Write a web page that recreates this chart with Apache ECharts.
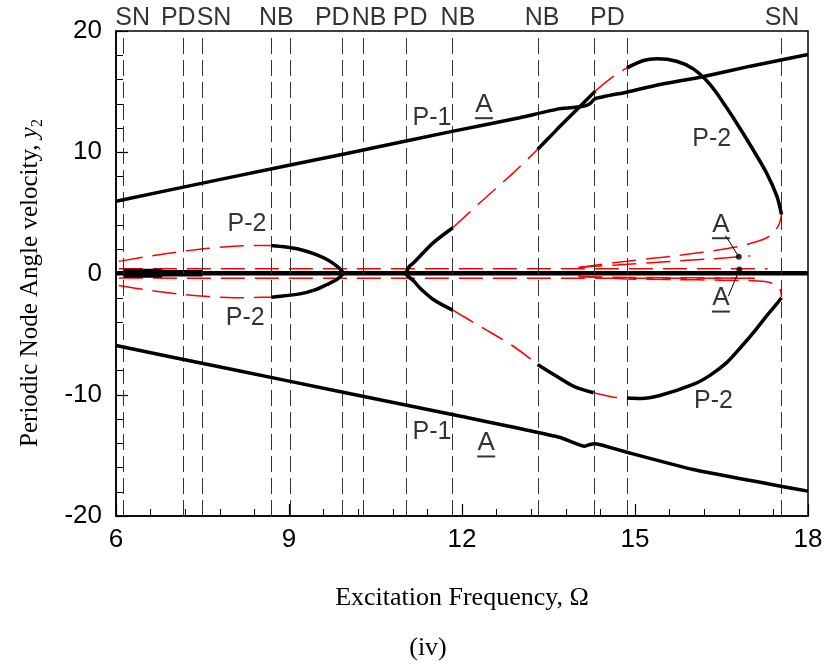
<!DOCTYPE html>
<html><head><meta charset="utf-8">
<script src="https://cdn.jsdelivr.net/npm/echarts@6/dist/echarts.min.js"></script>
<style>html,body{margin:0;padding:0;background:#fff}#c{width:828px;height:671px}</style>
</head><body><div id="c"></div>
<script>
// ---- data ----
const bifurcationX = [6.13, 7.17, 7.50, 8.69, 9.03, 9.93, 10.29, 11.03, 11.83, 13.32, 14.29, 14.86, 17.54];
const bifurcationLabels = ['SN', 'PD', 'SN', 'NB', 'PD', 'NB', 'PD', 'NB', 'NB', 'PD', 'SN'];
const bifurcationLabelX = [6.29, 7.08, 7.70, 8.78, 9.75, 10.39, 11.10, 11.93, 13.39, 14.52, 17.55];
const bifurcationLabelY = 21.06;

const p1Upper = [[6, 5.96], [8, 7.95], [10, 9.9], [11.85, 11.74], [13, 12.85], [13.7, 13.6], [14.05, 13.75], [14.16, 13.86], [14.24, 14.1], [14.31, 14.43], [14.85, 14.95], [15.43, 15.59], [16.13, 16.19], [17, 17.1], [18, 18.06]];
const p1Lower = [[6, -5.94], [8, -7.9], [10, -9.85], [12, -11.8], [13.7, -13.52], [14.13, -14.24], [14.22, -14.1], [14.31, -14.05], [14.45, -14.19], [14.86, -14.74], [16.01, -16.16], [18, -17.95]];
const p1Zero = [[6.0, 0.03], [18, 0.03]];
const p1ZeroThickA = [[6.13, 0.03], [6.8, 0.03]];
const p1ZeroThickB = [[6.13, 0.03], [7.5, 0.03]];
const redZeroUpper = [[6.05, 0.4], [17.3, 0.4]];
const redZeroLower = [[6.05, -0.38], [17.2, -0.4]];

const leftP2UpperUnstable = [[6.05, 1.0], [6.6, 1.45], [7.17, 1.84], [7.6, 2.08], [8.04, 2.25], [8.4, 2.3], [8.69, 2.31]];
const leftP2UpperStable = [[8.69, 2.31], [8.95, 2.18], [9.19, 1.98], [9.45, 1.6], [9.66, 1.15], [9.83, 0.6], [9.93, 0.15]];
const leftP2LowerUnstable = [[6.05, -0.99], [6.6, -1.4], [7.17, -1.73], [7.6, -1.9], [8.04, -2.0], [8.4, -1.98], [8.69, -1.95]];
const leftP2LowerStable = [[8.69, -1.95], [9.19, -1.68], [9.45, -1.35], [9.66, -0.91], [9.83, -0.5], [9.93, -0.08]];

const rightP2UpperStableA = [[11.03, 0.05], [11.08, 0.55], [11.16, 0.88], [11.27, 1.43], [11.5, 2.53], [11.84, 3.77]];
const rightP2UpperUnstableA = [[11.84, 3.77], [12.31, 5.83], [12.89, 8.3], [13.31, 10.23]];
const rightP2UpperStableB = [[13.31, 10.23], [13.59, 11.6], [13.7, 12.15], [14.05, 13.8], [14.31, 15.04]];
const rightP2UpperUnstableB = [[14.31, 15.04], [14.63, 16.27], [14.86, 16.96]];
const rightP2UpperStableC = [[14.86, 16.96], [15.15, 17.57], [15.38, 17.71], [15.72, 17.51], [16.01, 16.88], [16.3, 15.6], [16.59, 13.67], [16.94, 11.05], [17.28, 8.3], [17.46, 6.38], [17.54, 4.87]];

const rightP2LowerStableA = [[11.03, -0.05], [11.08, -0.3], [11.16, -0.6], [11.27, -1.2], [11.5, -2.14], [11.84, -3.02]];
const rightP2LowerUnstableA = [[11.84, -3.02], [12.31, -4.35], [12.89, -6.0], [13.31, -7.5]];
const rightP2LowerStableB = [[13.31, -7.5], [13.59, -8.33], [13.93, -9.29], [14.28, -9.84]];
const rightP2LowerUnstableB = [[14.28, -9.84], [14.63, -10.2], [14.86, -10.26]];
const rightP2LowerStableC = [[14.86, -10.26], [15.1, -10.3], [15.43, -10.06], [16.01, -9.15], [16.3, -8.4], [16.59, -7.35], [16.85, -6.0], [17.1, -4.6], [17.3, -3.4], [17.45, -2.55], [17.54, -2.0]];

const wedgeUpperOuter = [[14.02, 0.5], [14.4, 0.75], [14.86, 1.01], [15.3, 1.25], [15.67, 1.43], [16.0, 1.65], [16.36, 1.88], [16.82, 2.25], [17.05, 2.55], [17.22, 2.8], [17.35, 3.15], [17.45, 3.65], [17.51, 4.2], [17.54, 4.87]];
const wedgeUpperInner = [[14.02, 0.5], [14.4, 0.62], [14.86, 0.76], [15.67, 1.01], [16.3, 1.2], [16.8, 1.38], [17.0, 1.45]];
const wedgeLowerOuter = [[14.02, -0.25], [14.86, -0.45], [15.67, -0.5], [16.5, -0.55], [17.05, -0.6], [17.3, -0.7], [17.45, -0.95], [17.52, -1.35], [17.54, -1.95]];
const wedgeLowerInner = [[14.02, -0.25], [15.0, -0.33], [16.0, -0.36], [17.0, -0.4]];

const pointsA = [[16.8, 1.38], [16.81, 0.33]];
const leaderUpper = [[16.8, 1.38], [16.57, 3.13]];
const leaderLower = [[16.81, 0.33], [16.62, -1.87]];

const curveLabels = [
  [11.48, 12.84, 'P-1'], [11.48, -13.11, 'P-1'],
  [8.27, 4.04, 'P-2'], [8.24, -3.65, 'P-2'],
  [16.33, 11.05, 'P-2'], [16.36, -10.53, 'P-2']
];
const underlinedLabels = [[12.38, 13.8, 'A'], [12.42, -14.1, 'A'], [16.49, 3.9, 'A'], [16.49, -2.15, 'A']];

// ---- chart ----
const chart = echarts.init(document.getElementById('c'), null, {renderer: 'canvas'});
const SANS = 'Liberation Sans, Arial, sans-serif';
const SERIF = 'Liberation Serif, Times New Roman, serif';
const RED_DASH = [24, 10];
const LABEL_SIZE = 25;

function line(data, color, width, dashed, z, smooth) {
  return {
    type: 'line', data: data, symbol: 'none', showSymbol: false, silent: true,
    smooth: smooth === undefined ? 0.3 : smooth, z: z || 2,
    lineStyle: {color: color, width: width, type: dashed ? RED_DASH : 'solid', cap: 'butt'},
    animation: false
  };
}

const series = [];
series.push({
  type: 'line', data: [], silent: true, animation: false,
  markLine: {
    silent: true, symbol: 'none', animation: false,
    label: {show: false},
    lineStyle: {color: '#333', width: 1, type: [16, 6]},
    data: bifurcationX.map(v => ({xAxis: v}))
  }
});
[redZeroUpper, redZeroLower].forEach(d => series.push(line(d, '#ff0000', 1.5, true, 3, false)));
[leftP2UpperUnstable, leftP2LowerUnstable, rightP2UpperUnstableA, rightP2UpperUnstableB,
 rightP2LowerUnstableA, rightP2LowerUnstableB, wedgeUpperOuter, wedgeUpperInner, wedgeLowerOuter, wedgeLowerInner]
  .forEach(d => series.push(line(d, '#ff0000', 1.5, true, 3)));
series.push(line(p1Zero, '#000', 4.5, false, 4, false));
series.push(line(p1ZeroThickB, '#000', 6.5, false, 4, false));
series.push(line(p1ZeroThickA, '#000', 9, false, 4, false));
series.push(line(p1Upper, '#000', 3.5, false, 5, 0.15));
series.push(line(p1Lower, '#000', 3.5, false, 5, 0.15));
[leftP2UpperStable, leftP2LowerStable, rightP2UpperStableA, rightP2UpperStableB, rightP2UpperStableC,
 rightP2LowerStableA, rightP2LowerStableB, rightP2LowerStableC]
  .forEach(d => series.push(line(d, '#000', 3.5, false, 5)));
series.push(line(leaderUpper, '#000', 1, false, 6, false));
series.push(line(leaderLower, '#000', 1, false, 6, false));
series.push({type: 'scatter', data: pointsA, symbolSize: 6, itemStyle: {color: '#000'}, silent: true, z: 7, animation: false});
series.push({
  type: 'scatter', clip: false, silent: true, animation: false, z: 8,
  data: bifurcationLabelX.map((x, i) => [x, bifurcationLabelY, bifurcationLabels[i]]),
  symbolSize: 1, itemStyle: {color: 'transparent'},
  label: {show: true, position: 'inside', formatter: p => p.data[2], fontSize: LABEL_SIZE, color: '#000', fontFamily: SANS}
});
series.push({
  type: 'scatter', silent: true, animation: false, z: 8,
  data: curveLabels, symbolSize: 1, itemStyle: {color: 'transparent'},
  label: {show: true, position: 'inside', formatter: p => p.data[2], fontSize: LABEL_SIZE, color: '#000', fontFamily: SANS}
});
series.push({
  type: 'scatter', silent: true, animation: false, z: 8,
  data: underlinedLabels, symbolSize: 1, itemStyle: {color: 'transparent'},
  label: {
    show: true, position: 'inside',
    formatter: p => '{a|' + p.data[2] + '}\n{u| }',
    rich: {
      a: {fontSize: 26, color: '#000', fontFamily: SANS, lineHeight: 24, align: 'center'},
      u: {width: 18, height: 2, lineHeight: 3, backgroundColor: '#000', fontSize: 2, align: 'center'}
    }
  }
});

const axisCommon = {
  type: 'value',
  axisLine: {show: true, onZero: false, lineStyle: {color: '#000', width: 1.5}},
  axisTick: {show: true, inside: true, length: 12, lineStyle: {color: '#000', width: 1.2}},
  minorTick: {show: true, splitNumber: 5, length: 7, lineStyle: {color: '#000', width: 1}},
  splitLine: {show: false}, minorSplitLine: {show: false},
  axisLabel: {fontSize: 26, color: '#000', fontFamily: SANS}
};

chart.setOption({
  animation: false,
  backgroundColor: '#fff',
  grid: {left: 116, right: 20, top: 31, bottom: 155, show: true, borderColor: '#000', borderWidth: 1.5, backgroundColor: 'transparent'},
  xAxis: Object.assign({}, axisCommon, {min: 6, max: 18, interval: 3, axisLabel: Object.assign({}, axisCommon.axisLabel, {margin: 11})}),
  yAxis: Object.assign({}, axisCommon, {min: -20, max: 20, interval: 10, axisLabel: Object.assign({}, axisCommon.axisLabel, {margin: 14})}),
  graphic: [
    {type: 'text', x: 462, y: 598, silent: true,
     style: {text: 'Excitation Frequency, \u03A9', fontSize: 26, fontFamily: SERIF, fill: '#000', align: 'center', verticalAlign: 'middle', textAlign: 'center', textVerticalAlign: 'middle'}},
    {type: 'text', x: 428, y: 648, silent: true,
     style: {text: '(iv)', fontSize: 26, fontFamily: SERIF, fill: '#000', align: 'center', verticalAlign: 'middle', textAlign: 'center', textVerticalAlign: 'middle'}},
    {type: 'text', x: 30, y: 283, rotation: Math.PI / 2, silent: true,
     style: {
       text: '{n|Periodic Node Angle velocity, }{i|y}{s|2}',
       align: 'center', verticalAlign: 'middle', textAlign: 'center', textVerticalAlign: 'middle',
       rich: {
         n: {fontSize: 25, fontFamily: SERIF, fill: '#000', color: '#000', lineHeight: 32, verticalAlign: 'middle'},
         i: {fontSize: 25, fontFamily: SERIF, fontStyle: 'italic', fill: '#000', color: '#000', lineHeight: 32, verticalAlign: 'middle'},
         s: {fontSize: 16, fontFamily: SERIF, fill: '#000', color: '#000', lineHeight: 32, verticalAlign: 'bottom'}
       }
     }}
  ],
  series: series
});
</script>
</body></html>
